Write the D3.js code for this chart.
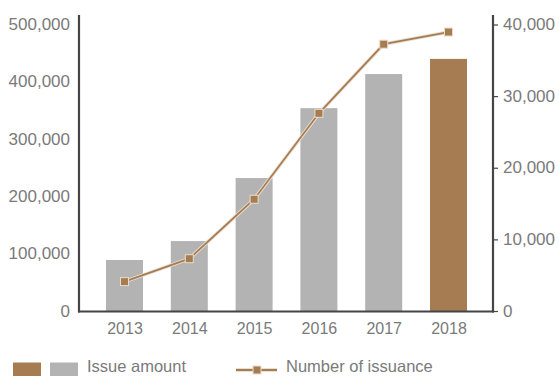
<!DOCTYPE html>
<html>
<head>
<meta charset="utf-8">
<script src="https://cdn.jsdelivr.net/npm/d3@7"></script>
<style>
  html, body { margin: 0; padding: 0; background: #fff; }
  svg { display: block; font-family: "Liberation Sans", Arial, sans-serif; }
</style>
</head>
<body>
<svg id="chart" width="559" height="376"></svg>
<script>
const years = ["2013", "2014", "2015", "2016", "2017", "2018"];
const issueAmount = [89000, 122000, 232000, 354000, 413500, 440000];
const issuanceCount = [4100, 7300, 15600, 27600, 37250, 38950];
const leftTicks = [0, 100000, 200000, 300000, 400000, 500000];
const rightTicks = [0, 10000, 20000, 30000, 40000];

const brown = "#a67c52";
const gray = "#b3b3b3";
const textCol = "#7a7a7a";
const axisCol = "#454545";

const svg = d3.select("#chart");
const x0 = 79, x1 = 493, yBase = 311, yTop = 24.5;

const x = d3.scalePoint().domain(years).range([124.5, 448.5]);
const yL = d3.scaleLinear().domain([0, 500000]).range([yBase, yTop]);
const yR = d3.scaleLinear().domain([0, 40000]).range([yBase, yTop]);
const barW = 37;
const fmt = d3.format(",");

// bars
svg.append("g").selectAll("rect").data(years).join("rect")
  .attr("x", d => x(d) - barW / 2)
  .attr("width", barW)
  .attr("y", (d, i) => yL(issueAmount[i]))
  .attr("height", (d, i) => yBase - yL(issueAmount[i]))
  .attr("fill", (d, i) => i === years.length - 1 ? brown : gray);

// left axis
const gL = svg.append("g").attr("transform", `translate(${x0},0)`)
  .call(d3.axisLeft(yL).tickValues(leftTicks).tickFormat(fmt).tickSize(0).tickPadding(9));
gL.select(".domain").remove();
gL.selectAll("text").attr("fill", textCol).attr("font-size", 17).attr("dy", "0.3em");
svg.append("line").attr("x1", x0).attr("x2", x0).attr("y1", 15).attr("y2", yBase + 1.5)
  .attr("stroke", axisCol).attr("stroke-width", 2.2);

// right axis
const gR = svg.append("g").attr("transform", `translate(${x1},0)`)
  .call(d3.axisRight(yR).tickValues(rightTicks).tickFormat(fmt).tickSize(5).tickPadding(5));
gR.select(".domain").remove();
gR.selectAll("line").attr("stroke", axisCol).attr("stroke-width", 1.2);
gR.selectAll("text").attr("fill", textCol).attr("font-size", 17).attr("dy", "0.3em");
svg.append("line").attr("x1", x1).attr("x2", x1).attr("y1", 15).attr("y2", yBase + 1.5)
  .attr("stroke", axisCol).attr("stroke-width", 2.2);

// bottom axis
const gB = svg.append("g").attr("transform", `translate(0,${yBase})`)
  .call(d3.axisBottom(x).tickSize(0).tickPadding(11));
gB.select(".domain").remove();
gB.selectAll("text").attr("fill", textCol).attr("font-size", 16).attr("dy", "0.72em");
svg.append("line").attr("x1", x0 - 1).attr("x2", x1 + 1).attr("y1", yBase + 0.5).attr("y2", yBase + 0.5)
  .attr("stroke", axisCol).attr("stroke-width", 2.2);

// line
const line = d3.line().x(d => x(d[0])).y(d => yR(d[1]));
const pts = years.map((y, i) => [y, issuanceCount[i]]);
svg.append("path").datum(pts).attr("d", line).attr("fill", "none")
  .attr("stroke", "#eadfd3").attr("stroke-width", 3.6);
svg.append("path").datum(pts).attr("d", line).attr("fill", "none")
  .attr("stroke", brown).attr("stroke-width", 1.8);
svg.append("g").selectAll("rect").data(pts).join("rect")
  .attr("x", d => x(d[0]) - 4).attr("y", d => yR(d[1]) - 4)
  .attr("width", 8).attr("height", 8)
  .attr("fill", brown).attr("stroke", "#ecdccb").attr("stroke-width", 1);

// legend
const lg = svg.append("g");
lg.append("rect").attr("x", 13).attr("y", 362.5).attr("width", 28).attr("height", 16).attr("fill", brown);
lg.append("rect").attr("x", 50).attr("y", 362.5).attr("width", 28).attr("height", 16).attr("fill", gray);
lg.append("text").attr("x", 87).attr("y", 372).attr("font-size", 16.5).attr("fill", textCol).text("Issue amount");
lg.append("line").attr("x1", 236).attr("x2", 277).attr("y1", 370).attr("y2", 370)
  .attr("stroke", brown).attr("stroke-width", 2.5);
lg.append("rect").attr("x", 253).attr("y", 366).attr("width", 8).attr("height", 8)
  .attr("fill", brown).attr("stroke", "#ecdccb").attr("stroke-width", 1);
lg.append("text").attr("x", 286).attr("y", 372).attr("font-size", 16.5).attr("fill", textCol).text("Number of issuance");
</script>
</body>
</html>
